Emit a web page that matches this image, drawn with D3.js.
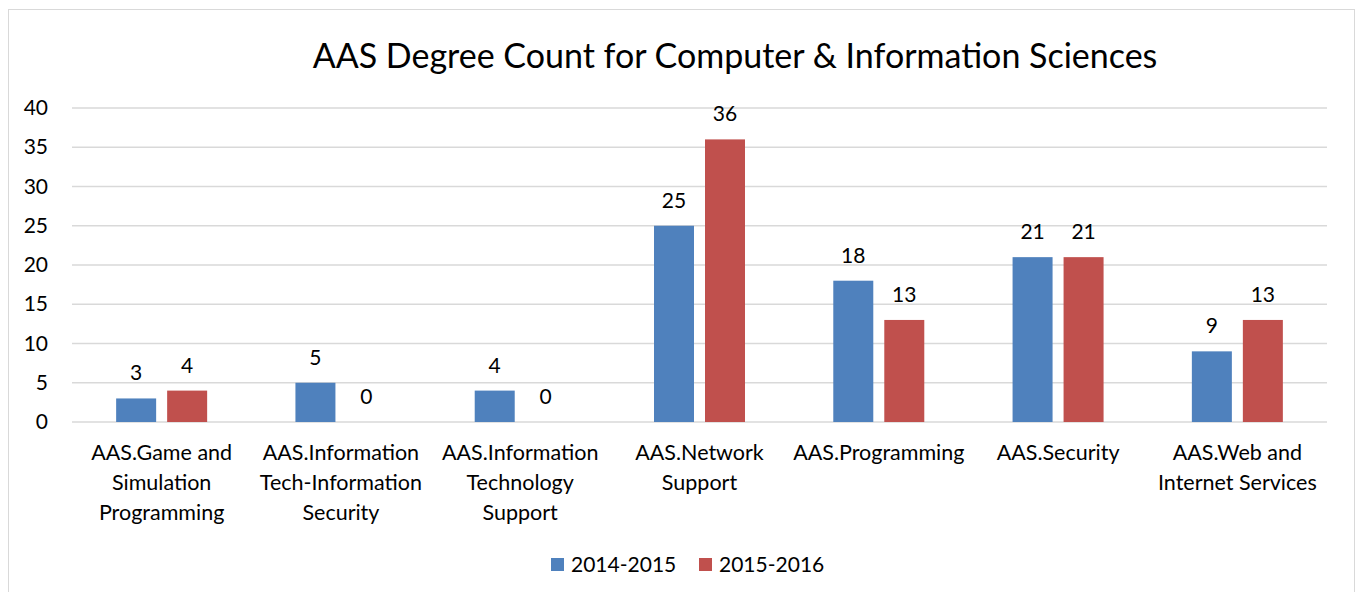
<!DOCTYPE html>
<html lang="en">
<head>
  <meta charset="utf-8">
  <title>AAS Degree Count</title>
  <script src="https://d3js.org/d3.v7.min.js"></script>
  <style>
    body { margin: 0; background: #fff; }
    text { font-family: Lato, "Open Sans", sans-serif; fill: #000; }
  </style>
</head>
<body>
<div id="chart"></div>
<script>
// data
var categories = [
  ["AAS.Game and", "Simulation", "Programming"],
  ["AAS.Information", "Tech-Information", "Security"],
  ["AAS.Information", "Technology", "Support"],
  ["AAS.Network", "Support"],
  ["AAS.Programming"],
  ["AAS.Security"],
  ["AAS.Web and", "Internet Services"]
];
var series = ["2014-2015", "2015-2016"];
var values2014 = [3, 5, 4, 25, 18, 21, 9];
var values2015 = [4, 0, 0, 36, 13, 21, 13];
var colors = ["#4f81bd", "#c0504d"];
var yTicks = [0, 5, 10, 15, 20, 25, 30, 35, 40];

var W = 1356, H = 592;
var margin = {top: 108, right: 29, bottom: 170, left: 72},
    width = W - margin.left - margin.right,
    height = H - margin.top - margin.bottom;

var svg = d3.select("#chart").append("svg")
    .attr("width", W)
    .attr("height", H);

// chart border
svg.append("rect")
    .attr("x", 8.5).attr("y", 9.5)
    .attr("width", 1346).attr("height", 600)
    .attr("fill", "none")
    .attr("stroke", "#d9d9d9")
    .attr("stroke-width", 1);

svg.append("text")
    .attr("x", 735).attr("y", 68)
    .attr("text-anchor", "middle")
    .style("font-size", "34px")
    .text("AAS Degree Count for Computer & Information Sciences");

var g = svg.append("g")
    .attr("transform", "translate(" + margin.left + "," + margin.top + ")");

var x = d3.scaleBand()
    .domain(d3.range(categories.length))
    .range([0, width]);

var y = d3.scaleLinear()
    .domain([0, 40])
    .range([height, 0]);

// gridlines
g.selectAll(".grid")
  .data(yTicks)
  .enter().append("line")
    .attr("x1", 0).attr("x2", width)
    .attr("y1", function(d) { return y(d); })
    .attr("y2", function(d) { return y(d); })
    .attr("stroke", "#d9d9d9")
    .attr("stroke-width", 1.5);

// y axis labels
var yAxis = g.append("g")
    .call(d3.axisLeft(y).tickValues(yTicks).tickSize(0).tickPadding(24));
yAxis.select(".domain").remove();
yAxis.selectAll("text").style("font-size", "21px").attr("fill", "#000");

// two bars of 40px with an 11px gap, centred in each category
var c = x.bandwidth() / 2;
var x1 = d3.scaleBand().domain([0, 1])
    .range([c - 45.5, c + 45.5])
    .paddingInner(11 / 51);

var data = [values2014, values2015];
var groups = g.selectAll(".cat")
  .data(categories)
  .enter().append("g")
    .attr("transform", function(d, i) { return "translate(" + x(i) + ",0)"; });

groups.each(function(cat, i) {
  var grp = d3.select(this);
  [0, 1].forEach(function(s) {
    var v = data[s][i];
    grp.append("rect")
      .attr("x", x1(s))
      .attr("y", y(v))
      .attr("width", x1.bandwidth())
      .attr("height", height - y(v))
      .attr("fill", colors[s]);
    grp.append("text")
      .attr("x", x1(s) + x1.bandwidth() / 2)
      .attr("y", y(v) - 18)
      .attr("text-anchor", "middle")
      .style("font-size", "21px")
      .text(v);
  });
  // category label
  var t = grp.append("text")
      .attr("text-anchor", "middle")
      .style("font-size", "21.5px");
  cat.forEach(function(line, k) {
    t.append("tspan")
      .attr("x", c)
      .attr("y", height + 38 + k * 30)
      .text(line);
  });
});

// legend
var legend = svg.append("g");
var legendX = [551, 699];
series.forEach(function(s, i) {
  legend.append("rect")
    .attr("x", legendX[i]).attr("y", 558)
    .attr("width", 13).attr("height", 13)
    .attr("fill", colors[i]);
  legend.append("text")
    .attr("x", legendX[i] + 20).attr("y", 572)
    .style("font-size", "21px")
    .text(s);
});
</script>
</body>
</html>
